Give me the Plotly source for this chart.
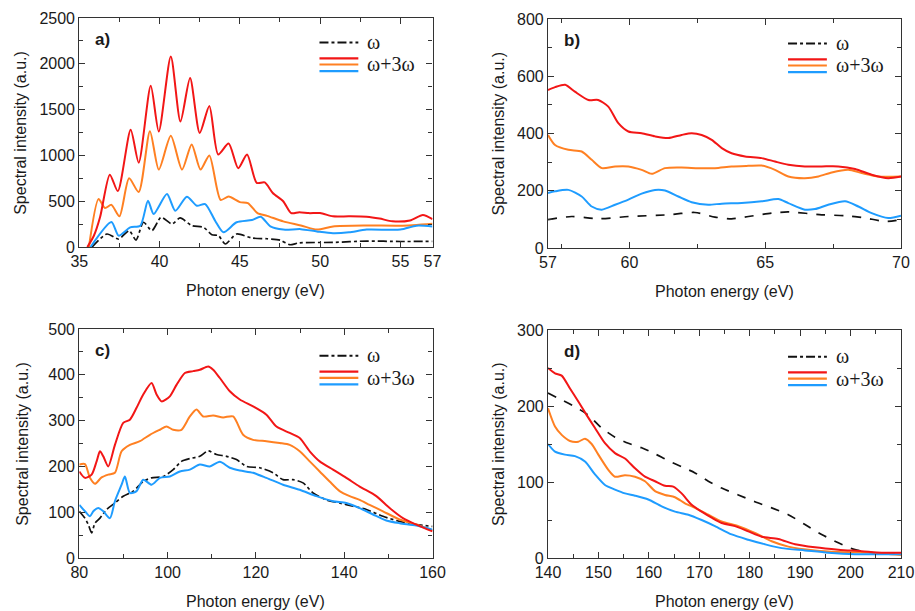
import plotly.graph_objects as go

# ---------------- data ----------------
# Panel a
A_RED_E = [35.5, 35.9, 36.3, 36.9, 37.4, 38.2, 38.7, 39.45, 39.95, 40.7, 41.3, 41.9, 42.5, 43.1, 43.65, 44.3, 44.9, 45.45, 46.05, 46.55, 47.05, 47.7, 48.2, 48.7, 49.3, 50.0, 50.8, 51.8, 52.9, 53.7, 54.5, 55.6, 56.4, 57.0]
A_RED_I = [0, 120, 330, 790, 610, 1280, 920, 1760, 1260, 2080, 1370, 1845, 1245, 1540, 1010, 1130, 860, 1010, 700, 705, 590, 500, 370, 380, 370, 370, 335, 335, 330, 310, 280, 290, 350, 305]
A_ORA_E = [35.6, 36.2, 36.6, 37.0, 37.5, 38.1, 38.7, 39.4, 39.95, 40.7, 41.4, 42.0, 42.55, 43.1, 43.8, 44.3, 45.0, 45.5, 46.1, 46.7, 47.7, 48.8, 49.8, 50.8, 52.9, 55.0, 57.0]
A_ORA_I = [0, 525, 425, 460, 335, 750, 600, 1265, 845, 1215, 845, 1120, 845, 1000, 515, 550, 490, 480, 370, 340, 280, 235, 190, 225, 235, 233, 255]
A_BLU_E = [35.7, 37.0, 37.45, 38.17, 38.8, 39.28, 39.63, 40.46, 40.98, 41.7, 42.32, 42.84, 43.46, 43.98, 44.8, 45.75, 46.3, 46.9, 47.7, 48.8, 49.8, 50.8, 51.8, 52.9, 55.0, 56.0, 57.0]
A_BLU_I = [0, 273, 124, 215, 233, 505, 360, 579, 396, 549, 451, 469, 287, 160, 270, 295, 330, 225, 190, 195, 170, 150, 160, 190, 190, 233, 225]
A_BLK_E = [35.8, 36.72, 37.45, 38.1, 38.53, 39.0, 39.52, 40.1, 40.77, 41.28, 42.01, 42.74, 43.26, 43.67, 44.09, 44.8, 45.75, 46.7, 47.5, 48.1, 48.7, 50.8, 52.9, 55.0, 57.0]
A_BLK_I = [0, 142, 87, 178, 76, 270, 178, 324, 251, 317, 233, 215, 134, 124, 33, 142, 98, 90, 75, 25, 45, 50, 65, 60, 62]

# Panel b
B_RED_E = [57.0, 57.26, 57.63, 57.99, 58.49, 58.85, 59.22, 59.59, 59.96, 60.45, 60.94, 61.43, 61.92, 62.29, 62.66, 63.03, 63.40, 63.76, 64.26, 64.87, 65.36, 65.85, 66.46, 67.08, 67.69, 68.31, 68.92, 69.53, 70.0]
B_RED_I = [552, 562, 570, 546, 517, 517, 494, 436, 407, 401, 390, 384, 395, 401, 395, 378, 349, 331, 320, 314, 302, 291, 285, 285, 285, 276, 256, 244, 250]
B_ORA_E = [57.0, 57.26, 57.75, 58.24, 58.61, 58.98, 59.47, 59.96, 60.45, 60.82, 61.31, 61.92, 62.54, 63.15, 63.76, 64.38, 64.87, 65.36, 65.85, 66.46, 66.96, 67.45, 68.06, 68.55, 69.17, 70.0]
B_ORA_I = [395, 360, 343, 337, 308, 279, 285, 285, 273, 259, 279, 281, 279, 279, 285, 287, 288, 273, 250, 244, 250, 264, 273, 262, 250, 250]
B_BLU_E = [57.0, 57.26, 57.75, 58.24, 58.61, 58.98, 59.47, 59.96, 60.45, 60.94, 61.31, 61.80, 62.29, 62.90, 63.40, 64.13, 64.87, 65.48, 65.85, 66.46, 66.83, 67.32, 67.94, 68.43, 68.92, 69.53, 70.0]
B_BLU_I = [192, 198, 203, 180, 145, 134, 151, 169, 190, 203, 201, 180, 160, 151, 155, 157, 163, 171, 157, 134, 136, 151, 163, 145, 122, 105, 113]
B_BLK_E = [57.0, 57.87, 58.85, 59.96, 61.43, 62.41, 63.15, 63.76, 64.38, 65.24, 65.85, 67.08, 67.94, 68.67, 69.41, 70.0]
B_BLK_I = [99, 110, 102, 110, 116, 124, 108, 102, 110, 122, 126, 116, 113, 105, 93, 99]

# Panel c
C_RED_E = [80.0, 81.28, 82.79, 83.92, 84.68, 85.43, 86.56, 88.07, 89.95, 91.46, 92.97, 94.48, 96.37, 97.50, 98.63, 100.51, 102.02, 103.91, 105.79, 107.30, 109.19, 110.32, 111.83, 114.09, 116.35, 119.37, 122.38, 124.65, 127.66, 129.92, 132.19, 134.45, 137.47, 140.48, 143.50, 147.27, 150.29, 153.30, 156.32, 160.0]
C_RED_I = [189, 175, 182, 211, 233, 222, 200, 247, 295, 302, 328, 357, 382, 357, 342, 353, 378, 404, 408, 411, 418, 411, 393, 364, 346, 331, 313, 287, 273, 262, 233, 211, 193, 175, 156, 135, 109, 87, 73, 58]
C_ORA_E = [80.0, 81.28, 82.41, 83.54, 85.05, 86.56, 88.07, 89.58, 91.46, 93.73, 95.99, 98.25, 99.76, 101.27, 103.15, 105.04, 106.55, 108.05, 110.32, 112.58, 114.84, 117.10, 119.37, 122.38, 125.40, 127.66, 129.92, 132.19, 134.45, 136.71, 138.97, 141.24, 143.50, 145.76, 148.78, 152.55, 156.32, 160.0]
C_ORA_I = [204, 205, 175, 162, 176, 182, 186, 233, 247, 255, 269, 280, 287, 280, 280, 309, 324, 309, 311, 307, 309, 269, 258, 255, 251, 247, 233, 211, 189, 167, 146, 135, 127, 116, 102, 84, 73, 60]
C_BLU_E = [80.0, 81.28, 82.41, 83.17, 84.30, 85.43, 86.94, 88.07, 89.58, 90.33, 91.46, 92.97, 94.48, 96.37, 98.25, 100.51, 102.78, 105.04, 107.30, 109.56, 111.83, 114.09, 116.35, 119.37, 122.38, 126.15, 129.92, 133.70, 137.47, 140.48, 143.50, 146.52, 149.53, 152.55, 156.32, 160.0]
C_BLU_I = [116, 102, 91, 102, 109, 102, 87, 124, 160, 178, 142, 146, 171, 160, 175, 178, 189, 193, 204, 200, 210, 197, 191, 186, 175, 160, 149, 135, 124, 120, 109, 95, 82, 76, 71, 62]
C_BLK_E = [80.0, 81.28, 82.04, 82.79, 83.54, 84.68, 86.18, 88.07, 89.95, 92.22, 94.48, 96.37, 99.00, 101.27, 103.15, 105.04, 107.30, 109.19, 111.07, 113.33, 115.60, 117.86, 120.87, 123.89, 126.15, 128.42, 130.68, 132.94, 135.96, 138.97, 141.99, 145.01, 148.78, 152.55, 156.32, 160.0]
C_BLK_I = [102, 87, 73, 55, 76, 87, 106, 120, 135, 146, 167, 175, 178, 193, 211, 217, 222, 234, 226, 222, 215, 200, 197, 186, 171, 171, 164, 142, 127, 120, 113, 106, 91, 80, 73, 69]

# Panel d
D_RED_E = [140.0, 141.39, 142.71, 144.36, 146.01, 147.67, 149.32, 151.30, 153.28, 155.27, 157.25, 159.23, 161.22, 163.20, 164.85, 166.50, 168.49, 170.47, 172.45, 174.43, 177.08, 179.72, 182.37, 185.67, 188.98, 192.94, 197.57, 202.19, 206.16, 210.0]
D_RED_I = [250, 243, 240, 223, 206, 188, 171, 151, 138, 131, 118, 107, 101, 95, 94, 85, 70, 61, 53, 46, 42, 35, 28, 25, 18, 14, 11, 9, 7, 7]
D_ORA_E = [140.0, 141.39, 142.71, 144.36, 146.01, 147.34, 148.66, 149.98, 151.96, 153.28, 155.27, 157.25, 159.23, 161.22, 163.20, 165.18, 167.16, 169.15, 171.79, 174.43, 177.74, 181.04, 184.35, 187.65, 192.94, 197.57, 204.18, 210.0]
D_ORA_I = [197, 173, 162, 154, 153, 157, 150, 136, 116, 107, 109, 107, 101, 88, 83, 80, 72, 66, 57, 48, 42, 33, 22, 15, 10, 8, 7, 4]
D_BLU_E = [140.0, 141.39, 143.37, 145.35, 147.34, 149.32, 151.30, 153.28, 155.27, 157.25, 159.89, 162.54, 165.18, 167.83, 170.47, 173.11, 176.42, 179.72, 183.03, 186.33, 190.96, 195.58, 200.87, 210.0]
D_BLU_I = [150, 140, 136, 134, 127, 110, 96, 90, 85, 82, 77, 68, 61, 57, 50, 42, 31, 24, 18, 13, 10, 7, 5, 5]
D_BLK_E = [140.0, 142.71, 145.35, 148.0, 150.64, 153.28, 155.93, 158.57, 161.22, 163.86, 166.50, 169.15, 171.79, 174.43, 177.74, 181.04, 184.35, 187.65, 190.96, 194.26, 197.57, 200.87, 204.18, 210.0]
D_BLK_I = [217, 208, 199, 188, 171, 159, 151, 145, 137, 128, 120, 112, 101, 92, 83, 74, 66, 57, 44, 31, 20, 11, 7, 5]

# Axis settings
PANEL_LABELS = ["a)", "b)", "c)", "d)"]
X_RANGES = [[35, 57], [57, 70], [80, 160], [140, 210]]
Y_RANGES = [[0, 2500], [0, 800], [0, 500], [0, 300]]
X_TICKVALS = [[35, 40, 45, 50, 55, 57], [57, 60, 65, 70], [80, 100, 120, 140, 160], [140, 150, 160, 170, 180, 190, 200, 210]]
X_MINOR = [2.5, 2.5, 10, 5]
Y_DTICK = [500, 200, 100, 100]
Y_MINOR = [250, 100, 50, 50]
X_TITLE = "Photon energy (eV)"
Y_TITLE = "Spectral intensity (a.u.)"
LEG_W = "ω"
LEG_W3W = "ω+3ω"

RED = "#f21616"
ORANGE = "#ff8022"
BLUE = "#1e9cff"
BLACK = "#111111"

panels = [
    (A_RED_E, A_RED_I, A_ORA_E, A_ORA_I, A_BLU_E, A_BLU_I, A_BLK_E, A_BLK_I, "dashdot"),
    (B_RED_E, B_RED_I, B_ORA_E, B_ORA_I, B_BLU_E, B_BLU_I, B_BLK_E, B_BLK_I, "dash"),
    (C_RED_E, C_RED_I, C_ORA_E, C_ORA_I, C_BLU_E, C_BLU_I, C_BLK_E, C_BLK_I, "dashdot"),
    (D_RED_E, D_RED_I, D_ORA_E, D_ORA_I, D_BLU_E, D_BLU_I, D_BLK_E, D_BLK_I, "dash"),
]

W, H = 915, 611
# plot areas in pixels (left, top, right, bottom)
BOXES = [(79.3, 18, 432.5, 247), (548, 19, 901, 248), (79.3, 329, 432.5, 558), (548, 330, 901, 558)]
YTITLE_SHIFT = [-59, -50, -57, -50]

fig = go.Figure()
layout = dict(width=W, height=H, margin=dict(l=0, r=0, t=0, b=0),
              paper_bgcolor="white", plot_bgcolor="white", showlegend=False,
              font=dict(family="Liberation Sans, Arial, sans-serif", size=16, color="#1a1a1a"))
annotations = []
shapes = []
for i, p in enumerate(panels):
    re, ri, oe, oi, be, bi, ke, ki, kdash = p
    xa = "x" if i == 0 else f"x{i+1}"
    ya = "y" if i == 0 else f"y{i+1}"
    for e, v, c, dash, w in [(ke, ki, BLACK, kdash, 1.7), (oe, oi, ORANGE, "solid", 2.0),
                             (be, bi, BLUE, "solid", 2.0), (re, ri, RED, "solid", 2.0)]:
        fig.add_trace(go.Scatter(x=e, y=v, mode="lines", xaxis=xa, yaxis=ya,
                                 line=dict(color=c, width=w, dash=dash, shape="spline", smoothing=0.7)))
    l, t, r, b = BOXES[i]
    xdom = [l / W, r / W]
    ydom = [1 - b / H, 1 - t / H]
    axstyle = dict(showline=True, linecolor="#333333", linewidth=1.2, mirror="allticks",
                   ticks="inside", ticklen=6, tickcolor="#333333", tickwidth=1.2,
                   showgrid=False, zeroline=False, automargin=False,
                   tickfont=dict(size=16, family="Liberation Sans, Arial, sans-serif"))
    layout["xaxis" if i == 0 else f"xaxis{i+1}"] = dict(
        domain=xdom, range=X_RANGES[i], anchor=ya, tickmode="array", tickvals=X_TICKVALS[i],
        minor=dict(ticks="inside", ticklen=4, tickcolor="#333333", dtick=X_MINOR[i], tick0=0, showgrid=False),
        **axstyle)
    layout["yaxis" if i == 0 else f"yaxis{i+1}"] = dict(
        domain=ydom, range=Y_RANGES[i], anchor=xa, dtick=Y_DTICK[i], tick0=0,
        minor=dict(ticks="inside", ticklen=4, tickcolor="#333333", dtick=Y_MINOR[i], tick0=0, showgrid=False),
        **axstyle)
    xd = f"{xa} domain"
    yd = f"{ya} domain"
    # axis titles
    annotations.append(dict(text=X_TITLE, xref=xd, yref=yd, x=0.5, y=0, yshift=-43,
                            xanchor="center", yanchor="middle", showarrow=False,
                            font=dict(size=16)))
    annotations.append(dict(text=Y_TITLE, xref=xd, yref=yd, x=0, y=0.5, xshift=YTITLE_SHIFT[i],
                            xanchor="center", yanchor="middle", textangle=-90, showarrow=False,
                            font=dict(size=16)))
    # panel label
    annotations.append(dict(text=f"<b>{PANEL_LABELS[i]}</b>", xref=xd, yref=yd, x=0.04, y=0.905,
                            xanchor="left", yanchor="middle", showarrow=False,
                            font=dict(size=17)))
    # legend
    off = 0.0 if i < 2 else -0.01
    shapes.append(dict(type="line", xref=xd, yref=yd, x0=0.68, x1=0.79, y0=0.893 + off, y1=0.893 + off,
                       line=dict(color=BLACK, width=2, dash="dashdot")))
    for yy, cc in [(0.824, RED), (0.797, ORANGE), (0.768, BLUE)]:
        shapes.append(dict(type="line", xref=xd, yref=yd, x0=0.68, x1=0.79, y0=yy + off, y1=yy + off,
                           line=dict(color=cc, width=2.2)))
    annotations.append(dict(text=LEG_W, xref=xd, yref=yd, x=0.81, y=0.895 + off, xanchor="left",
                            yanchor="middle", showarrow=False,
                            font=dict(family="Liberation Serif, Times New Roman, serif", size=20)))
    annotations.append(dict(text=LEG_W3W, xref=xd, yref=yd, x=0.81, y=0.797 + off, xanchor="left",
                            yanchor="middle", showarrow=False,
                            font=dict(family="Liberation Serif, Times New Roman, serif", size=20)))

layout["annotations"] = annotations
layout["shapes"] = shapes
fig.update_layout(**layout)
fig.write_html("out.html", config={"displayModeBar": False},
               post_script="document.body.style.margin='0';document.body.style.overflow='hidden';")
